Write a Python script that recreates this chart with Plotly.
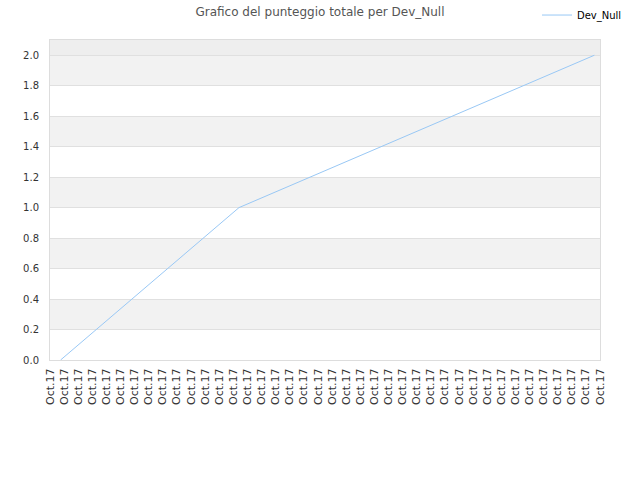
import plotly.graph_objects as go

# dati
tick_labels = ["Oct.17"] * 40
punti_x = [0.75, 13.4, 38.6]
punteggio = [0, 1, 2]
y_ticks = [0.0, 0.2, 0.4, 0.6, 0.8, 1.0, 1.2, 1.4, 1.6, 1.8, 2.0]

fig = go.Figure()
fig.add_trace(go.Scatter(
    x=punti_x, y=punteggio, mode="lines", name="Dev_Null",
    line=dict(color="#99c8f5", width=1),
))

# fasce alternate grigio/bianco
shapes = []
for i in range(len(y_ticks) - 1):
    if i % 2 == 1:
        shapes.append(dict(type="rect", xref="paper", yref="y", x0=0, x1=1,
                           y0=y_ticks[i], y1=y_ticks[i + 1],
                           fillcolor="#f2f2f2", line_width=0, layer="below"))
shapes.append(dict(type="rect", xref="paper", yref="y", x0=0, x1=1,
                   y0=y_ticks[-1], y1=2.1,
                   fillcolor="#eeeeee", line_width=0, layer="below"))

fig.update_layout(
    width=640, height=480,
    margin=dict(l=50, r=40, t=40, b=120, autoexpand=False),
    paper_bgcolor="white", plot_bgcolor="white",
    font=dict(family="DejaVu Sans", size=10, color="#333333"),
    title=dict(text="Grafico del punteggio totale per Dev_Null", x=0.5, xanchor="center",
               y=1 - 12 / 480, yanchor="middle", font=dict(size=12, color="#555555")),
    showlegend=True,
    legend=dict(x=537 / 640, y=1.078, xref="container", yref="paper", xanchor="left",
                yanchor="middle", itemwidth=30, font=dict(size=10, color="#000000"),
                bgcolor="rgba(0,0,0,0)"),
    shapes=shapes,
)
fig.update_xaxes(
    range=[0, len(tick_labels) - 1], tickvals=list(range(len(tick_labels))),
    ticktext=tick_labels, tickangle=-90, showgrid=False, zeroline=False,
    showline=True, linecolor="#dddddd", mirror=True, ticks="",
    ticklabelstandoff=3, tickfont=dict(size=11, color="#333333"),
)
fig.update_yaxes(
    range=[0, 2.1], tickvals=y_ticks, tickformat=".1f",
    showgrid=True, gridcolor="#e0e0e0", zeroline=False,
    showline=True, linecolor="#dddddd", mirror=True, ticks="",
    ticklabelstandoff=8, tickfont=dict(size=10, color="#333333"),
)

# niente margine di pagina, così la figura parte dall'angolo
fig.write_html("out.html", config={"displayModeBar": False},
               post_script="document.body.style.margin='0';")
